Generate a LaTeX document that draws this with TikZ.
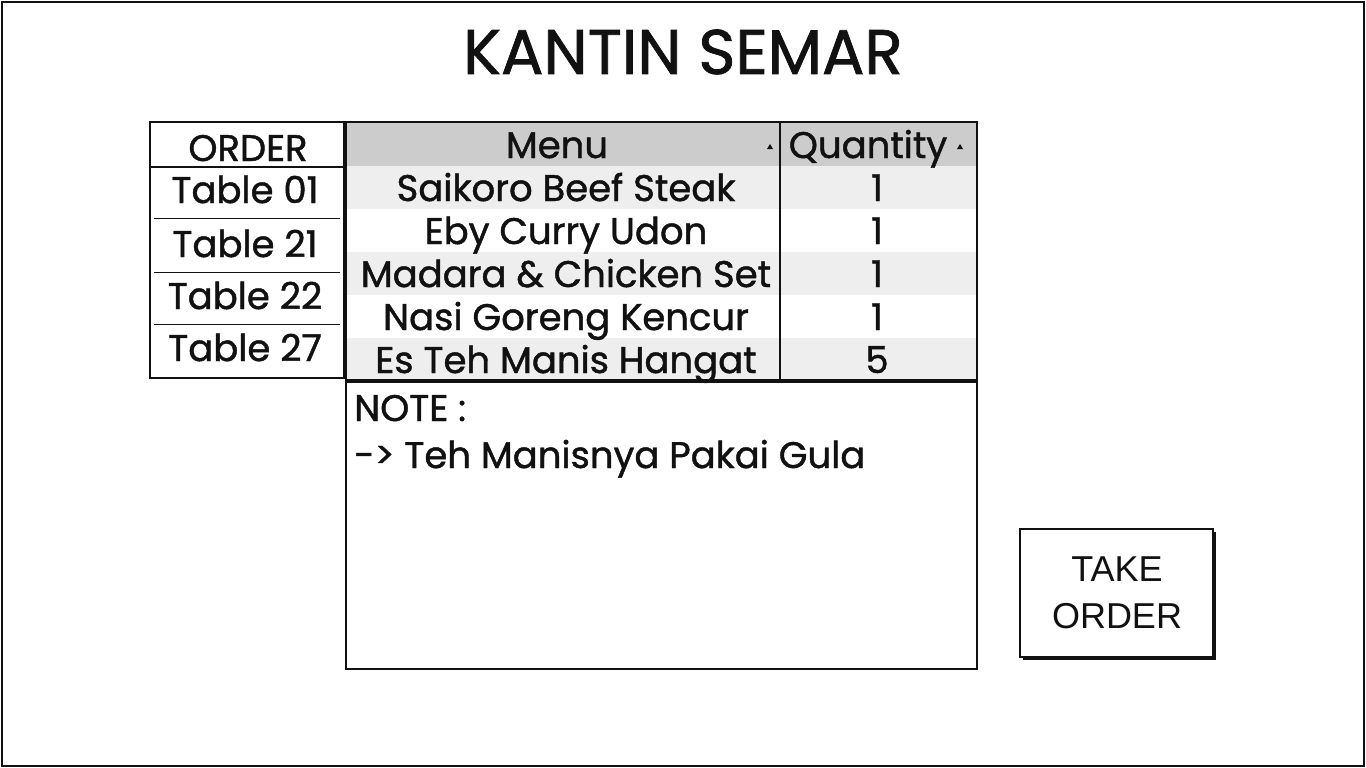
\documentclass[tikz,border=0pt]{standalone}
\usepackage{fontspec}
\setmainfont{Poppins}[FakeBold=1.2]
\newfontfamily\btnfont{Liberation Sans}
\definecolor{hdr}{HTML}{CCCCCC}
\definecolor{alt}{HTML}{EEEEEE}
\definecolor{ink}{HTML}{111111}
\begin{document}
\begin{tikzpicture}[x=1pt,y=-1pt,
  frame/.style={draw=ink,line width=1.6pt},
  cell/.style={font=\fontsize{37}{40}\selectfont,text=ink,inner sep=0pt,anchor=base},
  sortarr/.style={fill=ink,draw=none}]
\useasboundingbox (0,0) rectangle (1366,768);
% outer frame
\draw[frame] (2,2) rectangle (1364,766);
% title
\node[font=\fontsize{63}{66}\selectfont,text=ink,inner sep=0pt,anchor=base] (title) at (683,74) {KANTIN SEMAR};
% order list
\draw[frame] (150,122) rectangle (344,378);
\draw[frame] (150,167) -- (344,167);
\foreach \yy in {218,272,324} \draw[ink,line width=1pt] (154,\yy) -- (340,\yy);
\node[cell] (ordh) at (248,161) {ORDER};
\node[cell] (t01) at (245,203) {Table 01};
\node[cell] (t21) at (245,257) {Table 21};
\node[cell] (t22) at (245,309) {Table 22};
\node[cell] (t27) at (245,361) {Table 27};
% table grid
\fill[hdr] (346,122) rectangle (977,166);
\fill[alt] (346,166) rectangle (977,209);
\fill[white] (346,209) rectangle (977,252);
\fill[alt] (346,252) rectangle (977,295);
\fill[white] (346,295) rectangle (977,338);
\fill[alt] (346,338) rectangle (977,380);
\draw[frame] (346,122) rectangle (977,380);
\draw[ink,line width=1.3pt] (780,122) -- (780,380);
\node[cell] (hmenu) at (557,158) {Menu};
\node[cell] (hqty) at (868,158) {Quantity};
\fill[sortarr] (767,149) -- (773,149) -- (770,144) -- cycle;
\fill[sortarr] (957,149) -- (963,149) -- (960,144) -- cycle;
\node[cell] (m1) at (566,201) {Saikoro Beef Steak};
\node[cell] (m2) at (566,244) {Eby Curry Udon};
\node[cell] (m3) at (566,287) {Madara \& Chicken Set};
\node[cell] (m4) at (566,330) {Nasi Goreng Kencur};
\node[cell] (m5) at (566,373) {Es Teh Manis Hangat};
\node[cell] (q1) at (877,201) {1};
\node[cell] (q2) at (877,244) {1};
\node[cell] (q3) at (877,287) {1};
\node[cell] (q4) at (877,330) {1};
\node[cell] (q5) at (877,373) {5};
% note box
\draw[frame] (346,382) rectangle (977,669);
\node[cell,anchor=base west] (note) at (354,421) {NOTE :};
\node[cell,anchor=base west] (noteline) at (354,468) {-> Teh Manisnya Pakai Gula};
% take order button
\fill[ink] (1023,532) rectangle (1216,660);
\draw[ink,line width=1.4pt,fill=white] (1020,529) rectangle (1213,657);
\node[font=\btnfont\fontsize{36}{47}\selectfont,text=ink,align=center,inner sep=0pt] (btn) at (1117,593) {TAKE\\ORDER};
\end{tikzpicture}
\end{document}
